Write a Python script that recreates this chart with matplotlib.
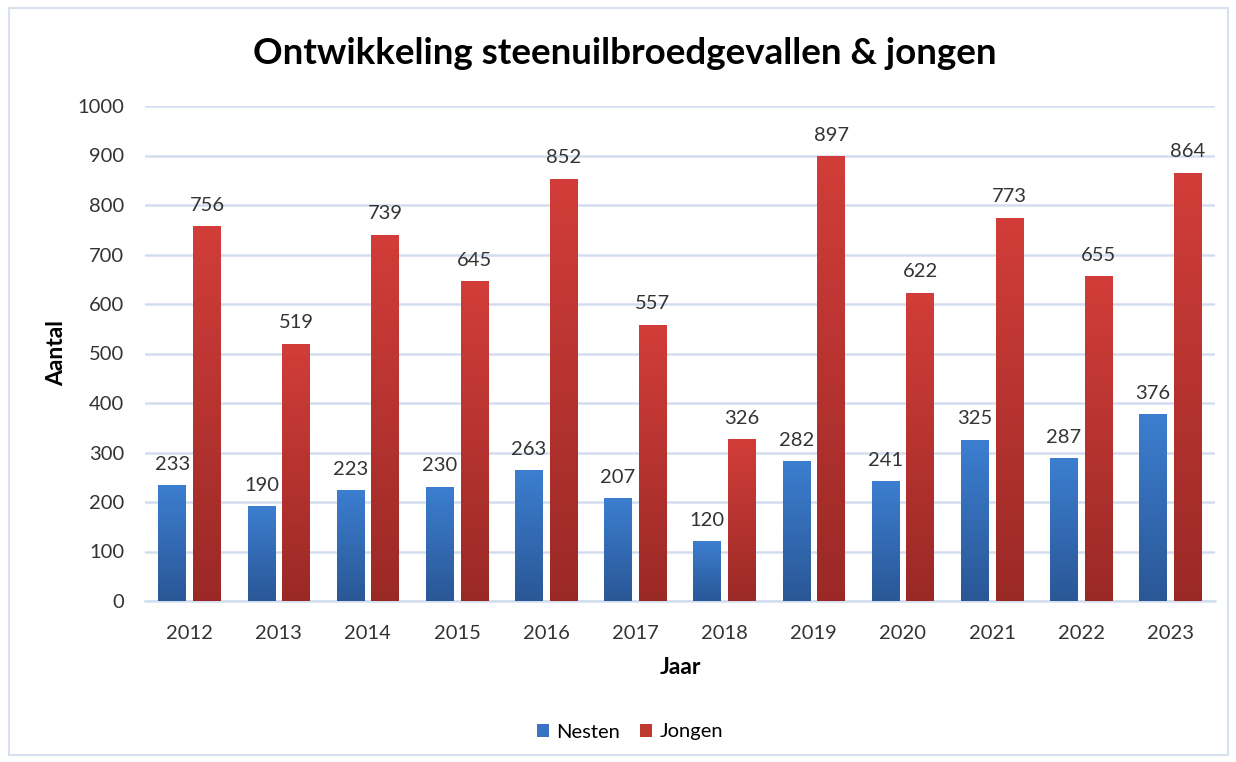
import matplotlib
matplotlib.use("Agg")
import matplotlib.pyplot as plt
import numpy as np
from matplotlib.colors import LinearSegmentedColormap
from matplotlib.patches import Rectangle, Patch

years = ["2012", "2013", "2014", "2015", "2016", "2017", "2018", "2019", "2020", "2021", "2022", "2023"]
nesten = [233, 190, 223, 230, 263, 207, 120, 282, 241, 325, 287, 376]
jongen = [756, 519, 739, 645, 852, 557, 326, 897, 622, 773, 655, 864]

plt.rcParams['font.family'] = ['Lato', 'DejaVu Sans']

fig = plt.figure(figsize=(12.36, 7.62), dpi=100)
fig.patches.append(Rectangle((9/1236, 1-755/762), (1228-9)/1236, (755-8)/762,
                             transform=fig.transFigure, fill=False,
                             edgecolor='#D6E0EE', linewidth=1.5))
ax = fig.add_axes([145/1236, 1-601/762, (1215-145)/1236, (601-106)/762])

x = np.arange(len(years))
w = 0.31
off = 0.195
blue_cmap = LinearSegmentedColormap.from_list('b', ['#2A5796', '#3C7ED0'])
red_cmap = LinearSegmentedColormap.from_list('r', ['#9A2926', '#D23D39'])

b1 = ax.bar(x - off, nesten, w, color='#3A75C4', zorder=2, label='Nesten')
b2 = ax.bar(x + off, jongen, w, color='#C0392F', zorder=2, label='Jongen')

grad = np.linspace(0, 1, 256).reshape(-1, 1)
for bars, cmap in ((b1, blue_cmap), (b2, red_cmap)):
    for r in bars:
        x0, y0, bw, bh = r.get_x(), r.get_y(), r.get_width(), r.get_height()
        ax.imshow(grad, cmap=cmap, origin='lower', aspect='auto',
                  extent=(x0, x0 + bw, y0, y0 + bh), zorder=3)
        ax.text(x0 + bw / 2, bh + 26, f"{int(bh)}", ha='center', va='bottom',
                fontsize=14.5, color='#333333', zorder=4)

ax.set_xlim(-0.5, len(years) - 0.5)
ax.set_ylim(0, 1000)
ax.set_yticks(range(0, 1001, 100))
ax.set_xticks(x)
ax.set_xticklabels(years)
ax.tick_params(axis='both', length=0, labelsize=14.5, labelcolor='#333333')
ax.tick_params(axis='y', pad=15)
ax.tick_params(axis='x', pad=17)
ax.grid(axis='y', color='#D2DEEF', linewidth=1.8, zorder=0)
ax.set_axisbelow(True)
for s in ['top', 'right', 'left']:
    ax.spines[s].set_visible(False)
ax.spines['bottom'].set_color('#D2DEEF')
ax.spines['bottom'].set_linewidth(1.8)
ax.spines['bottom'].set_zorder(1)

ax.set_ylabel('Aantal', fontsize=16.5, fontweight='bold', va='center')
ax.yaxis.set_label_coords((57 - 145) / 1070, 0.5)
ax.set_xlabel('Jaar', fontsize=16.5, fontweight='bold', va='center')
ax.xaxis.set_label_coords(0.5, (601 - 668) / 495)

fig.text(625/1236, 1-53/762, 'Ontwikkeling steenuilbroedgevallen & jongen',
         ha='center', va='center', fontsize=26.5, fontweight='bold', color='black')

handles = [Patch(facecolor='#3A75C4'), Patch(facecolor='#C0392F')]
fig.legend(handles, ['Nesten', 'Jongen'], loc='center', bbox_to_anchor=(630/1236, 1-732/762),
           ncol=2, frameon=False, fontsize=14.5, handlelength=0.6, handleheight=0.6,
           handletextpad=0.35, columnspacing=1.0)

fig.savefig('out.png', dpi=100)
